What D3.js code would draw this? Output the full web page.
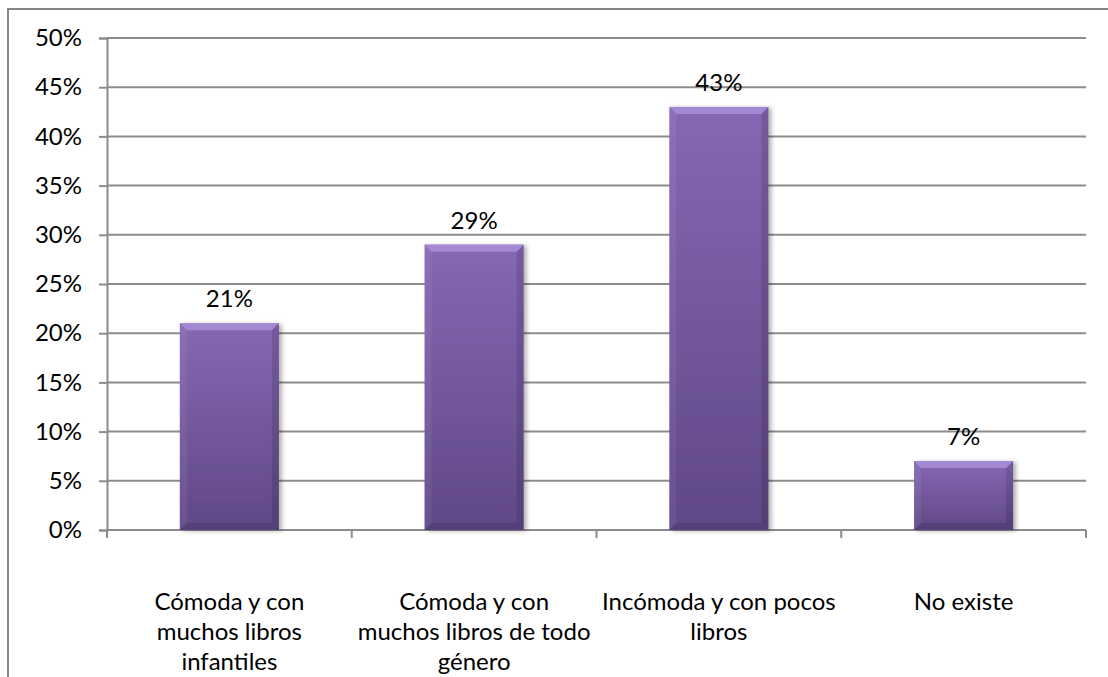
<!DOCTYPE html>
<html>
<head>
<meta charset="utf-8">
<script src="https://cdn.jsdelivr.net/npm/d3@7"></script>
<style>
  html, body { margin: 0; padding: 0; background: #fff; }
</style>
</head>
<body>
<div id="canvas"></div>
<script>
var categories = [
    ['Cómoda y con', 'muchos libros', 'infantiles'],
    ['Cómoda y con', 'muchos libros de todo', 'género'],
    ['Incómoda y con pocos', 'libros'],
    ['No existe']
];
var values = [0.21, 0.29, 0.43, 0.07];
var valueLabels = ['21%', '29%', '43%', '7%'];
var yTicks = [0, 0.05, 0.10, 0.15, 0.20, 0.25, 0.30, 0.35, 0.40, 0.45, 0.50];

var svgWidth = 1108;
var svgHeight = 677;
var fontName = 'Lato, "Open Sans", sans-serif';
var fontSize = '24px';
var gridColor = '#8c8c8c';
var plotLeft = 107, plotRight = 1086, plotTop = 38, plotBottom = 530;

var svg = d3.select('#canvas')
    .append('svg')
    .attr('width', svgWidth)
    .attr('height', svgHeight)
    .style('display', 'block');

var defs = svg.append('defs');
var body = defs.append('linearGradient').attr('id', 'barBody')
    .attr('x1', 0).attr('y1', 0).attr('x2', 0).attr('y2', 1);
body.append('stop').attr('offset', '0%').attr('stop-color', '#8667b3');
body.append('stop').attr('offset', '100%').attr('stop-color', '#604886');

var shadow = defs.append('filter').attr('id', 'shadow')
    .attr('x', '-10%').attr('y', '-10%').attr('width', '130%').attr('height', '130%');
shadow.append('feDropShadow').attr('dx', 3).attr('dy', 1).attr('stdDeviation', 2)
    .attr('flood-color', '#000').attr('flood-opacity', 0.3);

// outer frame (only top and left visible)
svg.append('rect')
    .attr('x', 8).attr('y', 9)
    .attr('width', 1110).attr('height', 680)
    .attr('fill', 'none')
    .attr('stroke', '#868686')
    .attr('stroke-width', 2);

var x = d3.scaleBand()
    .domain(d3.range(categories.length))
    .range([plotLeft, plotRight])
    .paddingInner(0).paddingOuter(0);

var y = d3.scaleLinear()
    .domain([0, 0.5])
    .range([plotBottom, plotTop]);

// gridlines
svg.append('g')
    .selectAll('line')
    .data(yTicks.slice(1))
    .enter()
    .append('line')
    .attr('x1', plotLeft).attr('x2', plotRight)
    .attr('y1', function (d) { return y(d); })
    .attr('y2', function (d) { return y(d); })
    .attr('stroke', gridColor)
    .attr('stroke-width', 2);

// y axis
var yAxis = svg.append('g')
    .attr('transform', 'translate(' + plotLeft + ',0)')
    .call(d3.axisLeft(y).tickValues(yTicks).tickSize(8).tickPadding(17)
        .tickFormat(function (d) { return Math.round(d * 100) + '%'; }));
yAxis.select('.domain').attr('stroke', gridColor).attr('stroke-width', 2);
yAxis.selectAll('.tick line').attr('stroke', gridColor).attr('stroke-width', 2);
yAxis.selectAll('text')
    .attr('font-family', fontName)
    .attr('font-size', fontSize)
    .attr('fill', '#000');

// x axis line and ticks at band edges
svg.append('line')
    .attr('x1', plotLeft).attr('x2', plotRight)
    .attr('y1', plotBottom).attr('y2', plotBottom)
    .attr('stroke', gridColor).attr('stroke-width', 2);
var edges = d3.range(categories.length + 1).map(function (i) {
    return i < categories.length ? x(i) : x(i - 1) + x.bandwidth();
});
svg.append('g')
    .selectAll('line')
    .data(edges)
    .enter()
    .append('line')
    .attr('x1', function (d) { return d; })
    .attr('x2', function (d) { return d; })
    .attr('y1', plotBottom).attr('y2', plotBottom + 8)
    .attr('stroke', gridColor).attr('stroke-width', 2);

// bars
var barW = x.bandwidth() * 0.405;
var bev = 7;
values.forEach(function (v, i) {
    var x0 = x(i) + (x.bandwidth() - barW) / 2;
    var x1 = x0 + barW;
    var y0 = y(v);
    var y1 = y(0);
    var g = svg.append('g');
    g.append('rect')
        .attr('x', x0).attr('y', y0)
        .attr('width', barW).attr('height', y1 - y0)
        .attr('fill', 'url(#barBody)')
        .attr('filter', 'url(#shadow)');
    // top bevel
    g.append('polygon')
        .attr('points', [[x0, y0], [x1, y0], [x1 - bev, y0 + bev], [x0 + bev, y0 + bev]].join(' '))
        .attr('fill', '#a488d2');
    // bottom bevel
    g.append('polygon')
        .attr('points', [[x0, y1], [x1, y1], [x1 - bev, y1 - bev], [x0 + bev, y1 - bev]].join(' '))
        .attr('fill', '#55407a');
    // side bevels
    g.append('polygon')
        .attr('points', [[x0, y0], [x0 + bev, y0 + bev], [x0 + bev, y1 - bev], [x0, y1]].join(' '))
        .attr('fill', '#ffffff').attr('opacity', 0.06);
    g.append('polygon')
        .attr('points', [[x1, y0], [x1 - bev, y0 + bev], [x1 - bev, y1 - bev], [x1, y1]].join(' '))
        .attr('fill', '#000000').attr('opacity', 0.12);

    svg.append('text')
        .attr('x', x(i) + x.bandwidth() / 2)
        .attr('y', y0 - 16)
        .text(valueLabels[i])
        .attr('fill', '#000')
        .attr('font-family', fontName)
        .attr('font-size', fontSize)
        .attr('text-anchor', 'middle');
});

// category labels
categories.forEach(function (lines, i) {
    var t = svg.append('text')
        .attr('x', x(i) + x.bandwidth() / 2)
        .attr('y', plotBottom + 80)
        .attr('fill', '#000')
        .attr('font-family', fontName)
        .attr('font-size', fontSize)
        .attr('text-anchor', 'middle');
    lines.forEach(function (line, k) {
        t.append('tspan')
            .attr('x', x(i) + x.bandwidth() / 2)
            .attr('y', plotBottom + 80 + k * 30)
            .text(line);
    });
});
</script>
</body>
</html>
